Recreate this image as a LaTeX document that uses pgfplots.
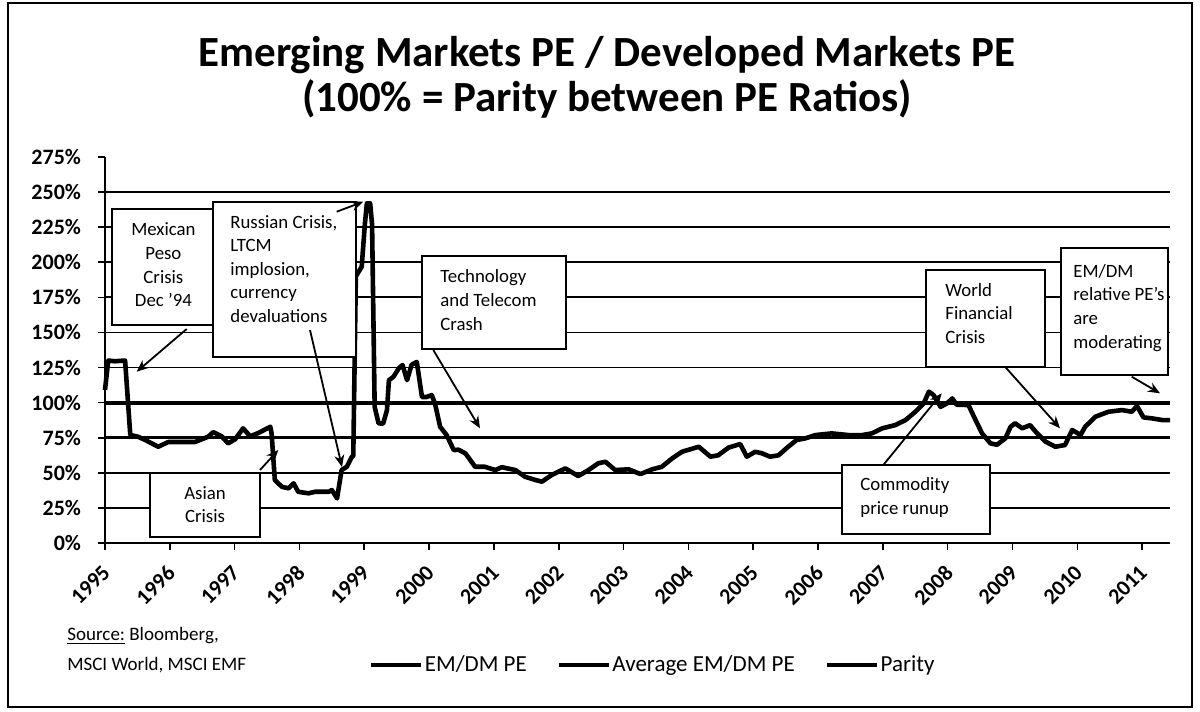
\documentclass[border=0pt]{standalone}
\usepackage{fontspec}
\setmainfont{Carlito}
\usepackage{pgfplots}
\pgfplotsset{compat=1.18}
\usetikzlibrary{arrows.meta}
\begin{document}
\begin{tikzpicture}
\begin{axis}[
 name=ax,
 scale only axis,
 width=532.5bp, height=193bp,
 xmin=1995, xmax=2011.43, ymin=0, ymax=275,
 axis x line*=bottom, axis y line*=left,
 axis line style={line width=1.1bp, -},
 xtick={1995,1996,...,2011},
 ytick={0,25,...,250},
 extra y ticks={275},
 extra y tick style={grid=none},
 ymajorgrids,
 grid style={black, line width=0.9bp},
 tick style={black, line width=0.8bp},
 tick align=outside,
 major tick length=3.5bp,
 /pgf/number format/assume math mode=true,
 /pgf/number format/1000 sep={},
 yticklabel={\pgfmathprintnumber{\tick}\%},
 ticklabel style={font=\bfseries\fontsize{11bp}{13bp}\selectfont},
 xticklabel style={xshift=-2bp, yshift=-2bp, rotate=45, anchor=north east},
 yticklabel style={xshift=-5bp},
 clip=false,
 legend style={at={(axis description cs:0.2469,-0.316)}, anchor=west, draw=none, fill=none,
   inner sep=0pt, legend columns=-1, font=\fontsize{11.5bp}{13bp}\selectfont,
   /tikz/every even column/.append style={column sep=14bp},
   nodes={inner sep=1bp}},
 legend image code/.code={\draw[#1] (0bp,0bp) -- (25bp,0bp);},
]
\addplot[black, line width=2.3bp, line join=round] table[row sep=\\] {
x y\\
1995.00 109\\
1995.05 130\\
1995.15 129.5\\
1995.31 130\\
1995.39 77\\
1995.51 75.7\\
1995.62 73.4\\
1995.82 68.6\\
1995.98 72\\
1996.13 72\\
1996.39 72\\
1996.59 75.7\\
1996.67 79\\
1996.80 76\\
1996.90 71\\
1997.01 74\\
1997.13 81.7\\
1997.24 76\\
1997.37 78.5\\
1997.55 82.8\\
1997.57 78\\
1997.62 44.9\\
1997.73 40\\
1997.83 39\\
1997.91 42.5\\
1997.98 36.5\\
1998.14 35.4\\
1998.24 36.5\\
1998.45 36.5\\
1998.50 37.7\\
1998.58 31.8\\
1998.65 52\\
1998.73 54.3\\
1998.81 61.5\\
1998.83 62\\
1998.87 190\\
1998.96 196.8\\
1999.01 227.7\\
1999.04 242\\
1999.09 242\\
1999.12 227\\
1999.16 97\\
1999.22 85.3\\
1999.29 85\\
1999.35 94.7\\
1999.38 116\\
1999.45 118.4\\
1999.53 124.4\\
1999.59 126.8\\
1999.66 116\\
1999.73 127\\
1999.81 129\\
1999.89 104\\
1999.96 104\\
2000.04 105.4\\
2000.09 99.5\\
2000.17 82.8\\
2000.27 76.9\\
2000.38 66.2\\
2000.45 66.5\\
2000.56 63.9\\
2000.71 54.3\\
2000.86 54.3\\
2001.02 52\\
2001.12 54\\
2001.33 52\\
2001.48 47.2\\
2001.64 44.9\\
2001.74 43.7\\
2001.89 48.4\\
2002.10 53.2\\
2002.30 47.7\\
2002.46 52\\
2002.61 56.8\\
2002.72 57.9\\
2002.87 52\\
2003.08 52.5\\
2003.26 49.1\\
2003.44 52.5\\
2003.59 54.3\\
2003.75 60.3\\
2003.90 65\\
2004.16 68.6\\
2004.34 61.5\\
2004.46 62.5\\
2004.62 68\\
2004.80 70.5\\
2004.90 61.5\\
2005.03 65\\
2005.13 64\\
2005.26 61.5\\
2005.39 62.5\\
2005.54 68.6\\
2005.67 73.4\\
2005.80 74.5\\
2005.96 76.9\\
2006.21 78.1\\
2006.47 76.9\\
2006.68 76.9\\
2006.83 78.1\\
2006.99 81.7\\
2007.19 84\\
2007.35 87.6\\
2007.50 93.5\\
2007.63 99.5\\
2007.71 107.8\\
2007.78 105.5\\
2007.89 97\\
2007.99 99.5\\
2008.07 103\\
2008.14 98.5\\
2008.32 98.3\\
2008.43 87.6\\
2008.53 78.1\\
2008.66 71\\
2008.76 70\\
2008.89 74.6\\
2008.97 82.8\\
2009.04 85.3\\
2009.15 81.7\\
2009.27 84\\
2009.38 78.1\\
2009.51 72.2\\
2009.66 68.6\\
2009.81 69.8\\
2009.92 80.5\\
2010.05 77\\
2010.12 82.8\\
2010.28 90\\
2010.48 93.5\\
2010.69 94.7\\
2010.84 93.5\\
2010.92 97.6\\
2011.02 89.5\\
2011.15 88.8\\
2011.31 87.6\\
2011.43 87.6\\
};
\addlegendentry{EM/DM PE}
\addplot[black, line width=1.8bp] coordinates {(1995,75.3) (2011.43,75.3)};
\addlegendentry{Average EM/DM PE}
\addplot[black, line width=2bp] coordinates {(1995,100) (2011.43,100)};
\addlegendentry{Parity}
\end{axis}
\begin{scope}[shift={(ax.south west)}, xshift=-52.5bp, yshift=271.5bp, x=0.5bp, y=-0.5bp]
 \tikzset{box/.style={draw=black, fill=white, line width=1bp},
   ann/.style={font=\fontsize{9.4bp}{11.8bp}\selectfont, inner sep=0pt},
   arr/.style={line width=0.9bp, -{Stealth[length=6bp,width=5bp]}}}
 % title
 \node[font=\bfseries\fontsize{21.5bp}{22.5bp}\selectfont, align=center] at (607,77.5)
   {Emerging Markets PE / Developed Markets PE\\(100\% = Parity between PE Ratios)};
 % source
 \node[anchor=west, font=\fontsize{9.5bp}{11bp}\selectfont, inner sep=0pt] at (67,636) {\underline{Source:} Bloomberg,};
 \node[anchor=west, font=\fontsize{9.5bp}{11bp}\selectfont, inner sep=0pt] at (67,665) {MSCI World, MSCI EMF};
 % Mexican
 \draw[box] (111.7,209.3) rectangle (215,325);
 \node[ann, align=center] at (163.4,265) {Mexican\\Peso\\Crisis\\Dec '94};
 \draw[arr] (186.7,329) -- (136.7,371.7);
 % Russian
 \draw[box] (212.7,201.7) rectangle (355.5,356.7);
 \node[ann, align=left, anchor=west] at (230,269) {Russian Crisis,\\LTCM\\implosion,\\currency\\devaluations};
 \draw[arr] (336.7,211.7) -- (363.3,201.7);
 \draw[arr] (310,330) -- (342,467);
 % Asian
 \draw[box] (150,472.7) rectangle (260,536.7);
 \node[ann, align=center] at (205,504.5) {Asian\\Crisis};
 \draw[arr] (260,470) -- (278.3,450);
 % Technology
 \draw[box] (421.7,256) rectangle (566,349.3);
 \node[ann, align=left, anchor=west] at (440,300) {Technology\\and Telecom\\Crash};
 \draw[arr] (433.3,350) -- (480,428.3);
 % World
 \draw[box] (926,270) rectangle (1045,366.7);
 \node[ann, align=left, anchor=west] at (945,313.3) {World\\Financial\\Crisis};
 \draw[arr] (1005,366.7) -- (1060,428.3);
 % EM/DM
 \draw[box] (1061,248.3) rectangle (1168.3,375);
 \node[ann, align=left, anchor=west] at (1073,307.7) {EM/DM\\relative PE's\\are\\moderating};
 \draw[arr] (1131.7,376.7) -- (1160,393.3);
 % Commodity
 \draw[box] (842.3,465) rectangle (990,534);
 \node[ann, align=left, anchor=west] at (860,497.5) {Commodity\\price runup};
 \draw[arr] (883.3,465) -- (941.7,393.3);
 % frame
 \draw[line width=1bp] (8,3) rectangle (1192,707);
 \path (0,0) rectangle (1200,711);
\end{scope}
\end{tikzpicture}
\end{document}
